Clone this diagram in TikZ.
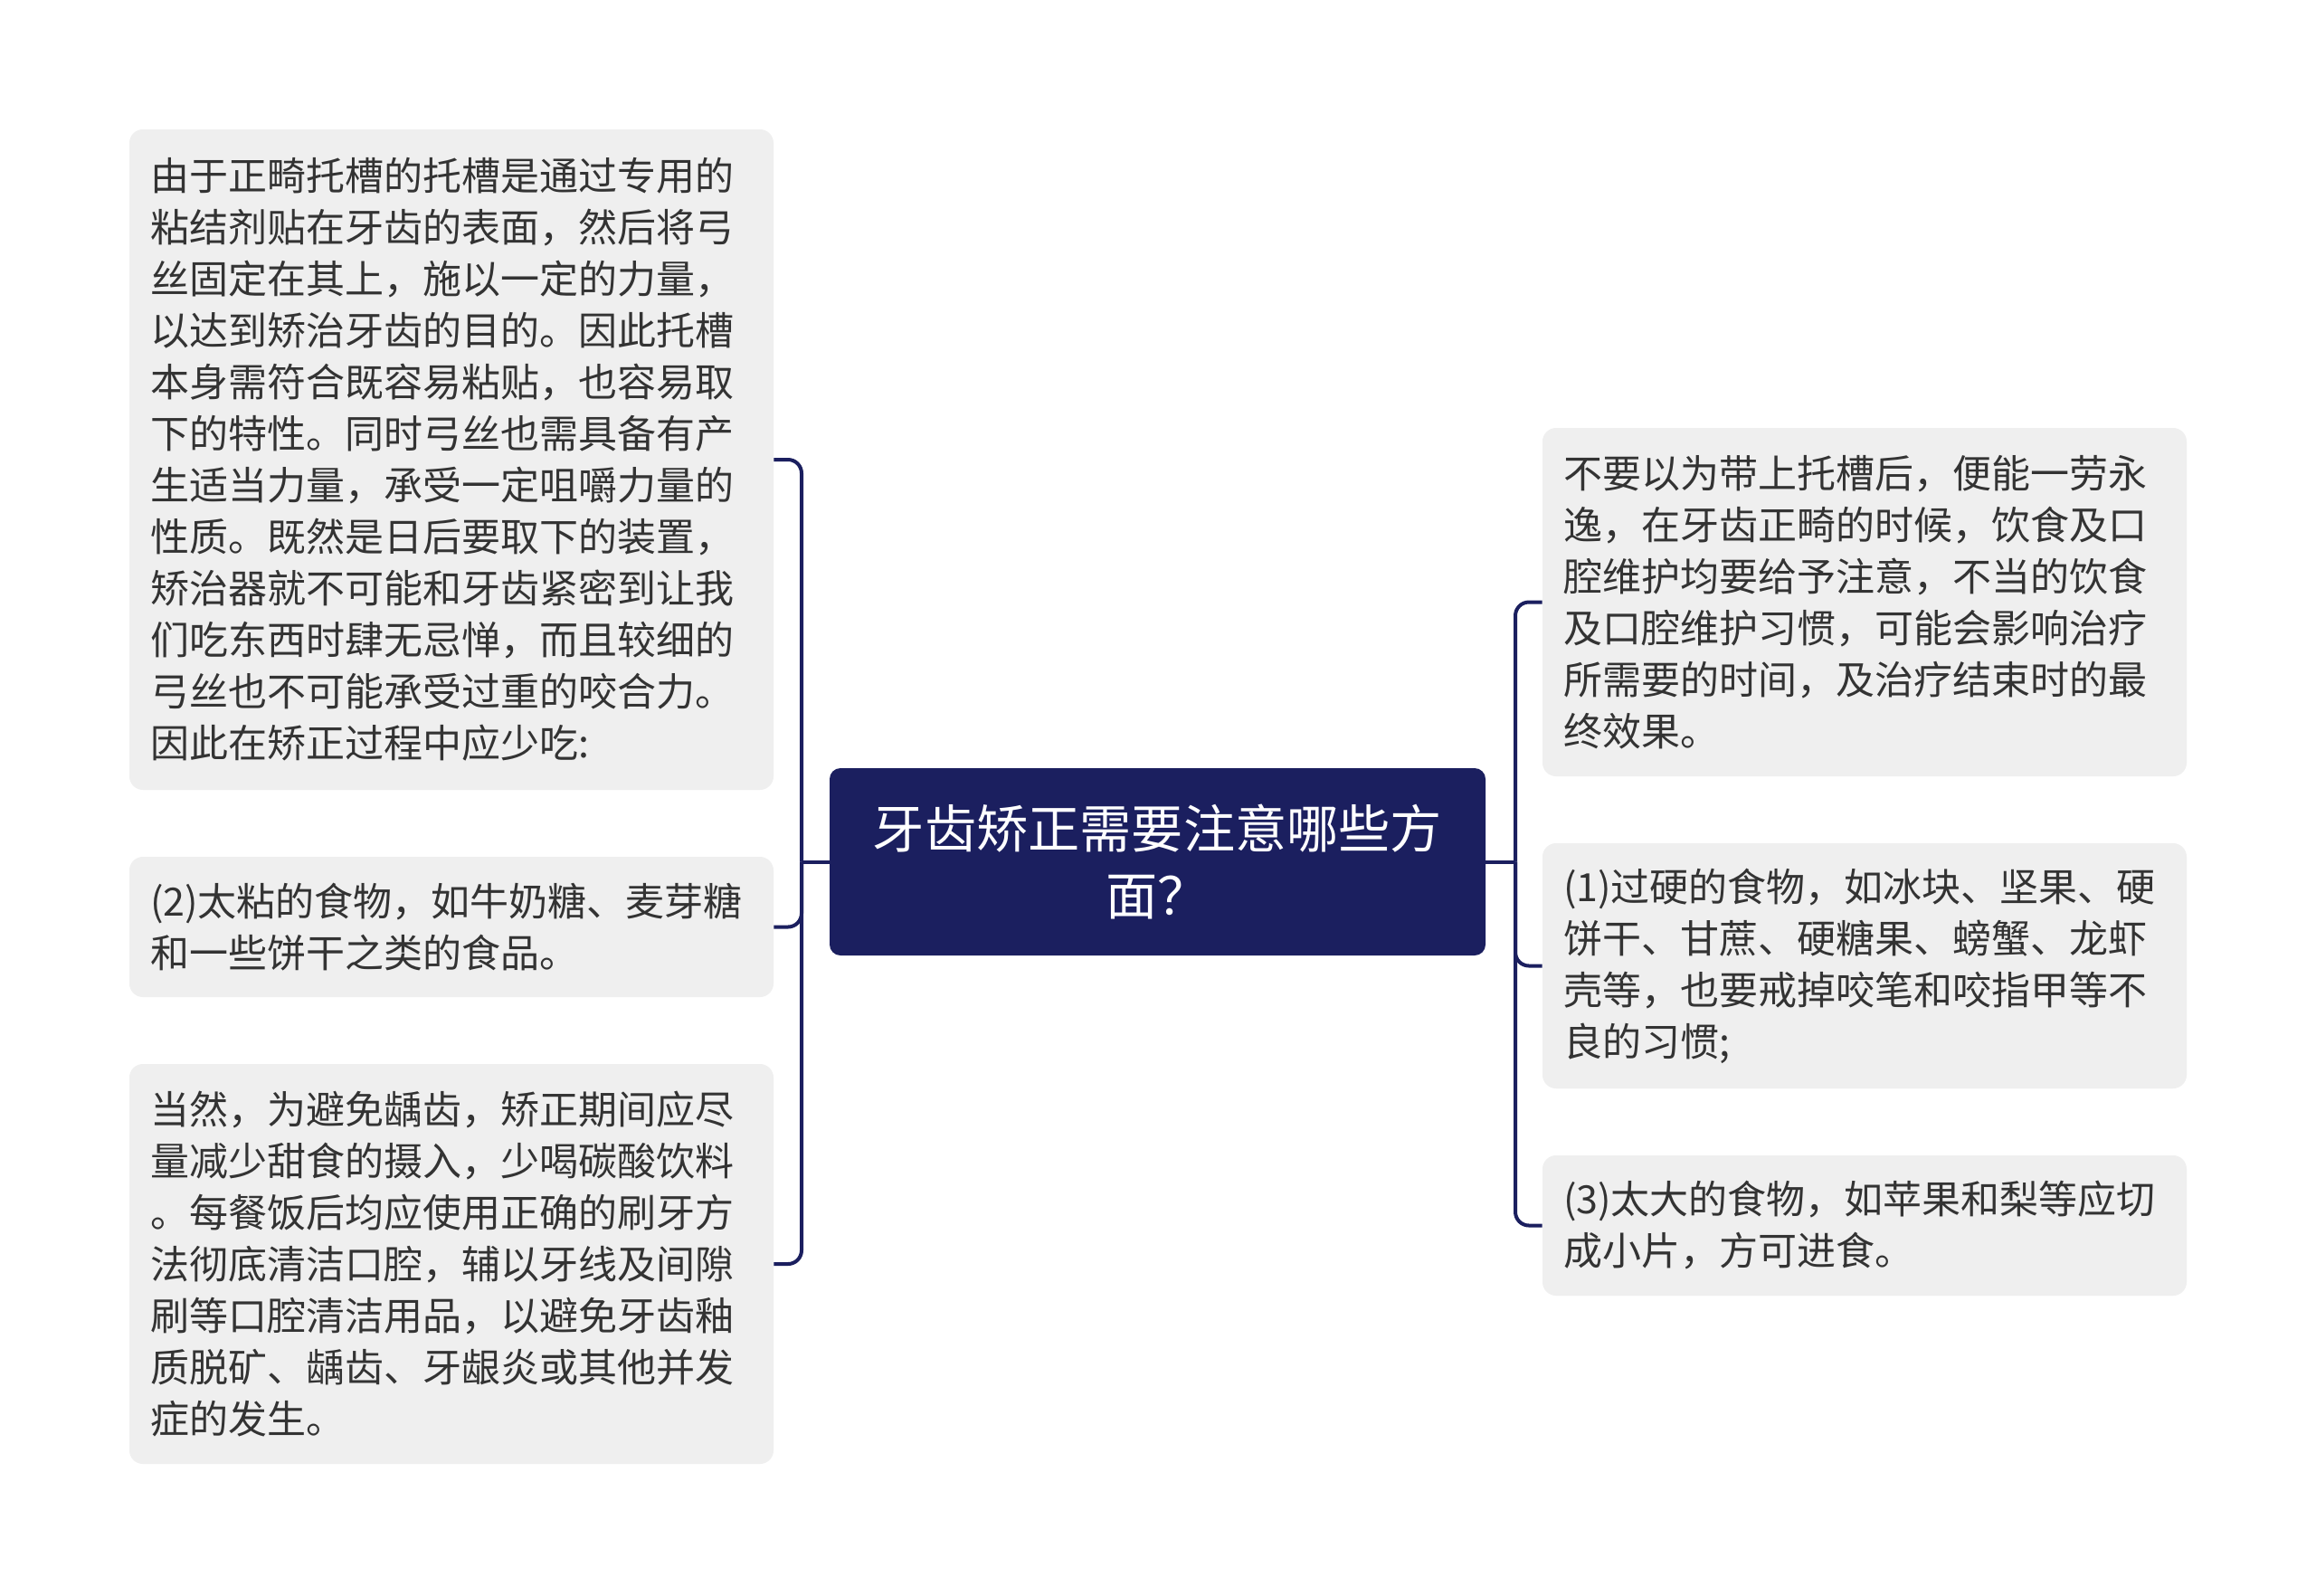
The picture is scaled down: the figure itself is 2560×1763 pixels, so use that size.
\documentclass[tikz,border=0pt]{standalone}
\usepackage{fontspec}
\setmainfont{Noto Sans CJK SC}
\usepackage{tikz}
\definecolor{navy}{HTML}{1B1F5F}
\definecolor{leafgray}{HTML}{EFEFEF}
\definecolor{textgray}{HTML}{333333}

\begin{document}
\begin{tikzpicture}[x=0.5pt,y=-0.5pt,
    leaf/.style={fill=leafgray, rounded corners=7.5pt, inner xsep=11.5pt, inner ysep=0pt,
        text width=333pt, align=left, text=textgray, font=\fontsize{21.5pt}{28.5pt}\selectfont},
    topic/.style={fill=navy, rounded corners=6pt, minimum width=362.5pt, minimum height=103.5pt,
        align=center, text=white, font=\fontsize{28.6pt}{36.75pt}\selectfont},
    link/.style={draw=navy, line width=2pt, rounded corners=7.5pt}]
    \fill[white] (0,0) rectangle (2560,1763);
    \useasboundingbox (0,0) rectangle (2560,1763);

    % centre
    \node[topic] (c) at (1279.5,952.5) {牙齿矫正需要注意哪些方\\面？};

    % left side
    \node[leaf, minimum height=365pt] (l1) at (499,508) {由于正畸托槽的托槽是通过专用的\\粘结剂贴在牙齿的表面，然后将弓\\丝固定在其上，施以一定的力量，\\以达到矫治牙齿的目的。因此托槽\\本身需符合既容易粘贴，也容易取\\下的特性。同时弓丝也需具备有产\\生适当力量，承受一定咀嚼力量的\\性质。既然是日后要取下的装置，\\矫治器就不可能和牙齿紧密到让我\\们吃东西时肆无忌惮，而且较细的\\弓丝也不可能承受过重的咬合力。\\因此在矫正过程中应少吃:};
    \node[leaf, minimum height=77.5pt] (l2) at (499,1024.5) {(2)太粘的食物，如牛奶糖、麦芽糖\\和一些饼干之类的食品。};
    \node[leaf, minimum height=221pt] (l3) at (499,1397) {当然，为避免龋齿，矫正期间应尽\\量减少甜食的摄入，少喝碳酸饮料\\。每餐饭后均应使用正确的刷牙方\\法彻底清洁口腔，辅以牙线及间隙\\刷等口腔清洁用品，以避免牙齿釉\\质脱矿、龋齿、牙龈炎或其他并发\\症的发生。};

    % right side
    \node[leaf, minimum height=192.5pt] (r1) at (2061,665.5) {不要以为带上托槽后，便能一劳永\\逸，在牙齿正畸的时候，饮食及口\\腔维护均要给予注意，不当的饮食\\及口腔维护习惯，可能会影响治疗\\所需要的时间，及治疗结束时的最\\终效果。};
    \node[leaf, minimum height=135.5pt] (r2) at (2061,1067.5) {(1)过硬的食物，如冰块、坚果、硬\\饼干、甘蔗、硬糖果、螃蟹、龙虾\\壳等，也要戒掉咬笔和咬指甲等不\\良的习惯;};
    \node[leaf, minimum height=77.5pt] (r3) at (2061,1354.5) {(3)太大的食物，如苹果和梨等应切\\成小片，方可进食。};

    % connectors
    \coordinate (lj) at (886,952.5);
    \coordinate (rj) at (1675,952.5);
    \draw[link] (c.west) -- (lj);
    \draw[link] (c.east) -- (rj);
    \foreach \n in {l1,l2,l3} \draw[link] (lj) |- (\n.east);
    \foreach \n in {r1,r2,r3} \draw[link] (rj) |- (\n.west);
\end{tikzpicture}
\end{document}
